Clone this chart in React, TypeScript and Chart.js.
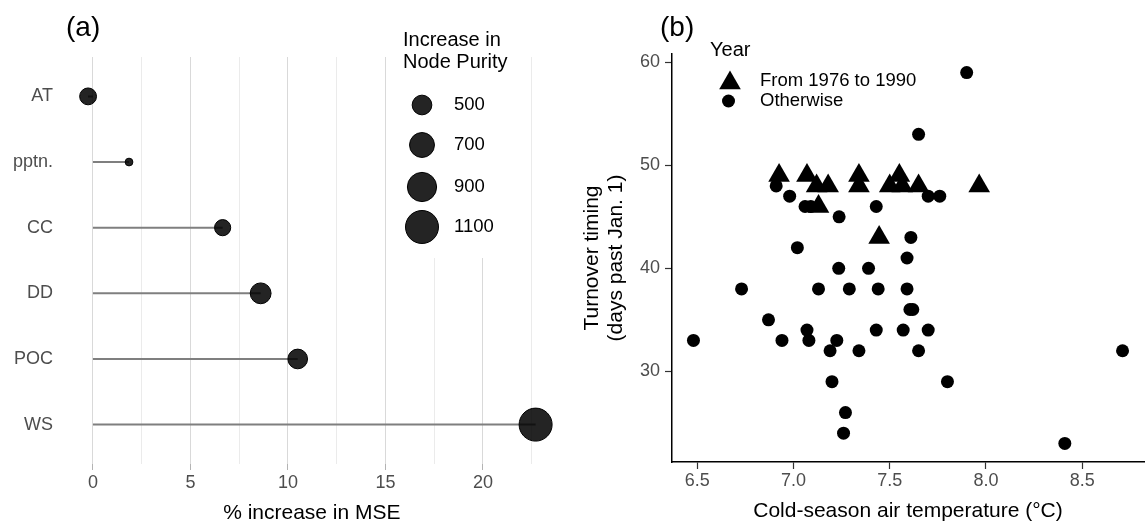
import React, { useEffect, useRef } from "react";
import { Chart, registerables } from "chart.js";

Chart.register(...registerables);

const FONT = '"Liberation Sans", Arial, Helvetica, sans-serif';
const TICK_GREY = "#4d4d4d";

// ---------- Panel (a): random-forest importance ----------
const predictors = ["AT", "pptn.", "CC", "DD", "POC", "WS"];
const mseIncrease = [-0.25, 1.85, 6.65, 8.6, 10.5, 22.7];
const nodePurity = [410, 210, 390, 540, 500, 1100];
const purityLegendValues = [500, 700, 900, 1100];
const mseTickLabels = [0, 5, 10, 15, 20];
const mseGridValues = [0, 2.5, 5, 7.5, 10, 12.5, 15, 17.5, 20, 22.5];

// ---------- Panel (b): turnover timing vs temperature ----------
const earlyTemp = [6.925, 7.07, 7.34, 7.55, 7.12, 7.18, 7.34, 7.5, 7.565, 7.65, 7.965, 7.13, 7.445];
const earlyDays = [49, 49, 49, 49, 48, 48, 48, 48, 48, 48, 48, 46, 43];
const otherTemp = [
  6.48, 6.73, 6.87, 6.91, 6.94, 6.98, 7.02, 7.06, 7.09, 7.07,
  7.08, 7.13, 7.19, 7.2, 7.225, 7.237, 7.235, 7.26, 7.27, 7.29,
  7.34, 7.39, 7.43, 7.43, 7.44, 7.57, 7.59, 7.59, 7.605, 7.62,
  7.61, 7.65, 7.65, 7.7, 7.7, 7.76, 7.8, 7.9, 8.41, 8.71,
];
const otherDays = [
  33, 38, 35, 48, 33, 47, 42, 46, 46, 34,
  33, 38, 32, 29, 33, 45, 40, 24, 26, 38,
  32, 40, 46, 34, 38, 34, 41, 38, 36, 36,
  43, 53, 32, 47, 34, 47, 29, 59, 23, 32,
];
const tempTicks = [6.5, 7.0, 7.5, 8.0, 8.5];
const dayTicks = [30, 40, 50, 60];

// ggplot-like size scale (area linear in value)
const purityDiameter = (v: number) => Math.sqrt(Math.max(20, 428 + 1.213 * (v - 500)));

const expandRange = (vals: number[]) => {
  const lo = Math.min(...vals);
  const hi = Math.max(...vals);
  const pad = (hi - lo) * 0.05;
  return [lo - pad, hi + pad];
};

const legendAPlugin = {
  id: "legendA",
  afterDraw(chart: any) {
    const ctx = chart.ctx as CanvasRenderingContext2D;
    ctx.save();
    ctx.fillStyle = "#ffffff";
    ctx.fillRect(390, 0, 136, 258);
    ctx.fillStyle = "#000";
    ctx.textAlign = "left";
    ctx.textBaseline = "middle";
    ctx.font = `20px ${FONT}`;
    ctx.fillText("Increase in", 403, 40);
    ctx.fillText("Node Purity", 403, 62);
    const rowY = [105, 145, 187, 227];
    purityLegendValues.forEach((v, i) => {
      const r = purityDiameter(v) / 2 - 0.5;
      ctx.beginPath();
      ctx.arc(422, rowY[i], r, 0, Math.PI * 2);
      ctx.fillStyle = "rgba(0,0,0,0.86)";
      ctx.fill();
      ctx.lineWidth = 1;
      ctx.strokeStyle = "#000";
      ctx.stroke();
      ctx.fillStyle = "#000";
      ctx.font = `18.5px ${FONT}`;
      ctx.fillText(String(v), 454, rowY[i]);
    });
    ctx.font = `28px ${FONT}`;
    ctx.fillText("(a)", 66, 28);
    ctx.restore();
  },
};

const legendBPlugin = {
  id: "legendB",
  afterDraw(chart: any) {
    const ctx = chart.ctx as CanvasRenderingContext2D;
    ctx.save();
    ctx.fillStyle = "#000";
    ctx.textAlign = "left";
    ctx.textBaseline = "middle";
    ctx.font = `28px ${FONT}`;
    ctx.fillText("(b)", 80, 28);
    ctx.font = `20px ${FONT}`;
    ctx.fillText("Year", 130, 50);
    // triangle key
    const tx = 150, ty = 83, tr = 12.5;
    ctx.beginPath();
    ctx.moveTo(tx, ty - tr);
    ctx.lineTo(tx + (Math.sqrt(3) / 2) * tr, ty + tr / 2);
    ctx.lineTo(tx - (Math.sqrt(3) / 2) * tr, ty + tr / 2);
    ctx.closePath();
    ctx.fill();
    // circle key
    ctx.beginPath();
    ctx.arc(148.5, 101, 6.5, 0, Math.PI * 2);
    ctx.fill();
    ctx.font = `18.5px ${FONT}`;
    ctx.fillText("From 1976 to 1990", 180, 81);
    ctx.fillText("Otherwise", 180, 101);
    ctx.restore();
  },
};

function PanelA() {
  const ref = useRef<HTMLCanvasElement>(null);
  useEffect(() => {
    const [xMin, xMax] = expandRange([0, ...mseIncrease]);
    const chart = new Chart(ref.current as HTMLCanvasElement, {
      type: "scatter",
      data: {
        datasets: [
          {
            data: predictors.map((_, i) => ({ x: mseIncrease[i], y: i })),
            pointRadius: nodePurity.map((v) => purityDiameter(v) / 2 - 0.5),
            pointHoverRadius: nodePurity.map((v) => purityDiameter(v) / 2 - 0.5),
            backgroundColor: "rgba(0,0,0,0.86)",
            borderColor: "#000",
            borderWidth: 1,
          } as any,
          ...predictors.map((_, i) => ({
            data: [
              { x: 0, y: i },
              { x: mseIncrease[i], y: i },
            ],
            showLine: true,
            borderColor: "#7f7f7f",
            borderWidth: 2,
            pointRadius: 0,
            pointHoverRadius: 0,
          })),
        ],
      },
      options: {
        responsive: false,
        animation: false,
        events: [],
        layout: { autoPadding: false, padding: { top: 57, right: 22, left: 0, bottom: 0 } },
        plugins: { legend: { display: false }, tooltip: { enabled: false } },
        scales: {
          x: {
            type: "linear",
            min: xMin,
            max: xMax,
            afterBuildTicks: (s: any) => {
              s.ticks = mseGridValues.map((v) => ({ value: v }));
            },
            afterFit: (s: any) => {
              s.height = 60;
            },
            grid: {
              color: (c: any) => (c.tick && c.tick.value % 5 === 0 ? "#d9d9d9" : "#ebebeb"),
              lineWidth: 1,
              drawTicks: true,
              tickLength: 6,
              tickColor: (c: any) => (c.tick && c.tick.value % 5 === 0 ? "#b3b3b3" : "rgba(0,0,0,0)"),
            },
            border: { display: false },
            ticks: {
              autoSkip: false,
              maxRotation: 0,
              padding: 2,
              color: TICK_GREY,
              font: { family: FONT, size: 18 },
              callback: (v: any) => (mseTickLabels.includes(Number(v)) ? String(v) : ""),
            },
            title: {
              display: true,
              text: "% increase in MSE",
              color: "#000",
              font: { family: FONT, size: 21, lineHeight: 1 },
              padding: { top: 0, bottom: 0.5 },
            },
          },
          y: {
            type: "linear",
            reverse: true,
            min: -0.6,
            max: predictors.length - 1 + 0.6,
            afterBuildTicks: (s: any) => {
              s.ticks = predictors.map((_, i) => ({ value: i }));
            },
            afterFit: (s: any) => {
              s.width = 65.7;
            },
            grid: { display: false, drawTicks: false, tickLength: 0 },
            border: { display: false },
            ticks: {
              autoSkip: false,
              padding: 12.7,
              color: TICK_GREY,
              font: { family: FONT, size: 18 },
              callback: (v: any) => predictors[Number(v)] ?? "",
            },
          },
        },
      } as any,
      plugins: [legendAPlugin],
    });
    return () => chart.destroy();
  }, []);
  return (
    <canvas
      ref={ref}
      width={580}
      height={524}
      style={{ position: "absolute", left: 0, top: 0, width: 580, height: 524 }}
    />
  );
}

function PanelB() {
  const ref = useRef<HTMLCanvasElement>(null);
  useEffect(() => {
    const [xMin, xMax] = expandRange([...earlyTemp, ...otherTemp]);
    const [yMin, yMax] = expandRange([...earlyDays, ...otherDays]);
    const axisCommon = {
      grid: {
        drawOnChartArea: false,
        drawTicks: true,
        tickLength: 7,
        tickColor: "#333",
        tickWidth: 1.2,
      },
      border: { display: true, color: "#000", width: 1.5 },
    };
    const chart = new Chart(ref.current as HTMLCanvasElement, {
      type: "scatter",
      data: {
        datasets: [
          {
            label: "From 1976 to 1990",
            data: earlyTemp.map((t, i) => ({ x: t, y: earlyDays[i] })),
            pointStyle: "triangle",
            pointRadius: 12.5,
            pointHoverRadius: 12.5,
            backgroundColor: "#000",
            borderColor: "#000",
            borderWidth: 0,
          },
          {
            label: "Otherwise",
            data: otherTemp.map((t, i) => ({ x: t, y: otherDays[i] })),
            pointStyle: "circle",
            pointRadius: 6.5,
            pointHoverRadius: 6.5,
            backgroundColor: "#000",
            borderColor: "#000",
            borderWidth: 0,
          },
        ],
      },
      options: {
        responsive: false,
        animation: false,
        events: [],
        layout: { autoPadding: false, padding: { top: 54, right: 3, left: 0, bottom: 0 } },
        plugins: { legend: { display: false }, tooltip: { enabled: false } },
        scales: {
          x: {
            type: "linear",
            min: xMin,
            max: xMax,
            ...axisCommon,
            afterBuildTicks: (s: any) => {
              s.ticks = tempTicks.map((v) => ({ value: v }));
            },
            afterFit: (s: any) => {
              s.height = 62;
            },
            ticks: {
              autoSkip: false,
              maxRotation: 0,
              padding: 1,
              color: TICK_GREY,
              font: { family: FONT, size: 18 },
              callback: (v: any) => Number(v).toFixed(1),
            },
            title: {
              display: true,
              text: "Cold-season air temperature (°C)",
              color: "#000",
              font: { family: FONT, size: 21, lineHeight: 1 },
              padding: { top: 0, bottom: 2.5 },
            },
          },
          y: {
            type: "linear",
            min: yMin,
            max: yMax,
            ...axisCommon,
            afterBuildTicks: (s: any) => {
              s.ticks = dayTicks.map((v) => ({ value: v }));
            },
            afterFit: (s: any) => {
              s.width = 92;
            },
            ticks: {
              autoSkip: false,
              padding: 5,
              color: TICK_GREY,
              font: { family: FONT, size: 18 },
              callback: (v: any) => String(v),
            },
            title: {
              display: true,
              text: ["Turnover timing", "(days past Jan. 1)"],
              color: "#000",
              font: { family: FONT, size: 21, lineHeight: 1.15 },
              padding: { top: 0, bottom: 0 },
            },
          },
        },
      } as any,
      plugins: [legendBPlugin],
    });
    return () => chart.destroy();
  }, []);
  return (
    <canvas
      ref={ref}
      width={567}
      height={524}
      style={{ position: "absolute", left: 580, top: 0, width: 567, height: 524 }}
    />
  );
}

export default function App() {
  return (
    <div
      style={{
        position: "absolute",
        left: 0,
        top: 0,
        width: 1147,
        height: 524,
        background: "#fff",
        overflow: "hidden",
      }}
    >
      <PanelA />
      <PanelB />
    </div>
  );
}
